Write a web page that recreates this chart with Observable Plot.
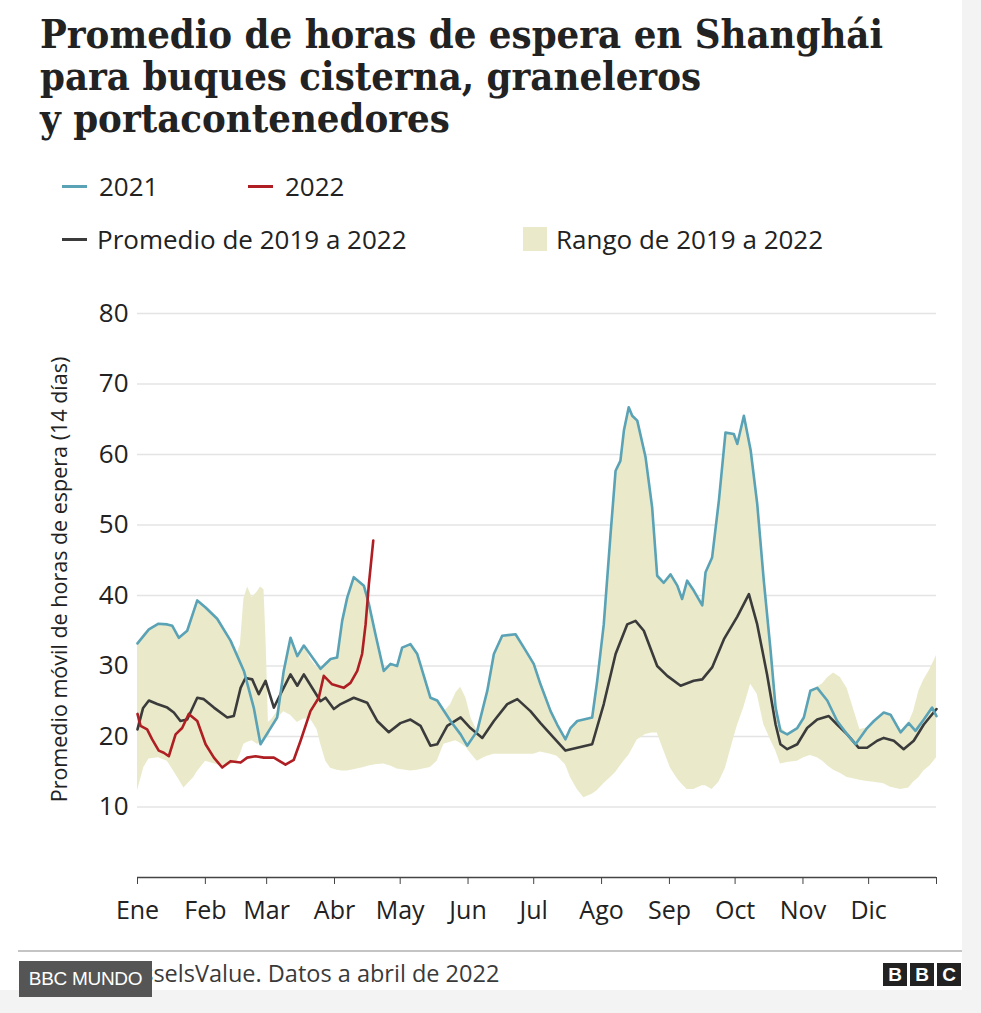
<!DOCTYPE html>
<html>
<head>
<meta charset="utf-8">
<script src="https://cdn.jsdelivr.net/npm/d3@7"></script>
<script src="https://cdn.jsdelivr.net/npm/@observablehq/plot@0.6"></script>
<style>
html,body{margin:0;padding:0;}
body{width:981px;height:1013px;background:#f3f3f3;position:relative;overflow:hidden;font-family:"Open Sans",sans-serif;color:#222;}
#card{position:absolute;left:0;top:0;width:962px;height:990px;background:#fff;}
.tl{position:absolute;left:40px;font-family:"DejaVu Serif",serif;font-weight:bold;font-size:39px;line-height:42px;height:42px;color:#222;white-space:nowrap;transform-origin:0 0;width:max-content;}
.leg{position:absolute;display:flex;align-items:center;height:26px;font-size:26px;line-height:26px;white-space:nowrap;color:#222;}
.dash{display:inline-block;width:25px;height:3px;margin-right:12px;}
.sq{display:inline-block;width:24px;height:24px;margin-right:9px;}
#chart{position:absolute;left:0;top:270px;}
#rule{position:absolute;left:18px;top:950px;width:944px;height:2px;background:#c4c4c4;}
#source{position:absolute;left:27px;top:957px;font-size:23.5px;line-height:32px;color:#3a3a3a;white-space:nowrap;}
#badge{position:absolute;left:19px;top:961px;width:133px;height:36px;background:#555;color:#fff;font-family:"Liberation Sans Narrow","Liberation Sans",sans-serif;font-size:19px;line-height:36px;text-align:center;letter-spacing:-0.3px;}
#bbc{position:absolute;left:883px;top:963px;display:flex;gap:3px;}
#bbc span{display:block;width:24px;height:23px;background:#222;color:#fff;font-family:"Liberation Sans",sans-serif;font-weight:bold;font-size:19px;line-height:23px;text-align:center;}
</style>
</head>
<body>
<div id="card"></div>
<div class="tl" style="top:13px">Promedio de horas de espera en Shanghái</div>
<div class="tl" style="top:55px">para buques cisterna, graneleros</div>
<div class="tl" style="top:97px">y portacontenedores</div>

<div class="leg" style="left:62px;top:173px"><span class="dash" style="background:#5aa2b5"></span>2021</div>
<div class="leg" style="left:248px;top:173px"><span class="dash" style="background:#ae1e22"></span>2022</div>
<div class="leg" style="left:62px;top:226px"><span class="dash" style="background:#3b3b3b;margin-right:10px"></span>Promedio de 2019 a 2022</div>
<div class="leg" style="left:523px;top:226px"><span class="sq" style="background:#eaeacb"></span>Rango de 2019 a 2022</div>

<div id="chart"></div>

<div id="rule"></div>
<div id="source">Fuente: VesselsValue. Datos a abril de 2022</div>
<div id="badge">BBC MUNDO</div>
<div id="bbc"><span>B</span><span>B</span><span>C</span></div>

<script>
// ---- Data (day of year, hours) ----
const monthLabels = ["Ene","Feb","Mar","Abr","May","Jun","Jul","Ago","Sep","Oct","Nov","Dic"];
const monthStartDays = [0,31,59,90,120,151,181,212,243,273,304,334];
const yearEndDay = 365;
const yTicks = [10,20,30,40,50,60,70,80];
const yLabel = "Promedio móvil de horas de espera (14 días)";

const days2021 = [0,5.2,9.6,13.6,15.9,18.9,22.7,27.3,31.1,36.4,42.5,48.6,53.1,56.2,60,63.8,66.8,69.9,73,76,83.6,88.2,91.2,93.5,95.8,98.8,103.4,105.7,108.7,112.5,115.6,118.6,120.9,124.7,127.8,133.8,136.9,143,147.6,150.6,155.2,159.8,162.8,166.6,172.7,176.5,181,184.1,188.7,191.7,195.5,197.8,200.9,207.7,210,213,216.1,218.4,220.6,222.2,224.4,226,228.3,232.1,235.1,237.4,240.4,243.5,246.6,248.8,251.1,254.1,258,259.5,262.5,265.6,268.6,272.4,274,277,280.1,283.1,286.1,289.2,291.5,293.7,296.8,301.4,304.4,307.4,310.5,315.1,319.6,324.2,328,333.3,336.4,340.9,344,348.6,352.3,355.4,359.2,363,365];
const hours2021 = [33.2,35.2,36.0,35.9,35.7,34.0,35.0,39.3,38.3,36.7,33.6,29.3,24.1,18.9,20.8,22.7,29.3,34.0,31.4,32.9,29.6,31.0,31.2,36.4,39.7,42.6,41.4,38.8,34.5,29.3,30.3,30.0,32.6,33.1,31.7,25.5,25.1,22.2,20.3,18.7,20.8,26.5,31.7,34.3,34.5,32.6,30.3,27.4,23.6,21.7,19.6,21.2,22.2,22.7,27.9,35.9,48.7,57.7,59.1,63.4,66.7,65.5,64.8,59.6,52.5,42.8,41.8,43.0,41.4,39.5,42.1,40.7,38.6,43.3,45.4,53.5,63.1,62.9,61.5,65.5,60.6,53.0,42.1,32.2,24.1,20.8,20.3,21.2,22.7,26.5,26.9,25.1,22.2,20.3,18.9,21.2,22.2,23.4,23.1,20.6,21.9,20.8,22.4,24.1,22.9];

const days2022 = [0,1.4,4.4,6.7,9.7,12,14.3,17.4,20.4,23.4,27.3,31.1,34.9,38.7,42.5,47.1,50.1,53.9,57.7,62.3,67.6,71.4,74.5,79,82.8,85.1,88.9,94.2,97.3,100.4,102.6,104.2,105.7,107.7];
const hours2022 = [23.2,21.5,21.0,19.6,18.0,17.7,17.2,20.3,21.2,23.2,22.2,18.9,17.0,15.6,16.5,16.3,17.0,17.2,17.0,17.0,16.0,16.7,19.4,23.6,25.5,28.6,27.4,26.9,27.6,29.3,31.7,35.9,41.6,47.8];

const daysAvg = [0,2.5,5.2,9,13.6,16.6,19.6,22.7,27.3,30.3,34.9,41,44,47.1,49.3,52.4,55.4,58.5,62.3,65.3,69.9,73,76,83.6,85.9,89.7,92.8,98.8,104.9,109.5,114.8,120.1,124.7,129.3,133.8,136.9,141.5,147.6,152.1,157.5,162.8,168.9,173.5,179.5,184.1,190.2,195.5,200.9,207.7,213,218.4,223.7,227.5,231.3,237.4,242,248.1,254.1,258,262.5,267.9,274,279.3,283.1,287.6,291.5,293.7,296.8,301.4,305.9,310.5,315.8,319.6,324.2,329.5,333.3,337.9,340.9,345.5,350,354.6,359.2,365];
const hoursAvg = [21.0,24.0,25.1,24.6,24.1,23.4,22.2,22.4,25.5,25.3,24.1,22.7,22.9,26.9,28.3,28.1,26.0,27.9,24.1,26.0,28.8,27.2,28.8,25.0,25.5,23.9,24.6,25.5,24.8,22.2,20.6,21.9,22.4,21.5,18.7,18.9,21.5,22.7,21.2,19.8,22.2,24.6,25.3,23.6,21.9,19.8,18.0,18.4,18.9,24.6,31.7,35.9,36.4,35.0,30.0,28.6,27.2,27.9,28.1,29.8,33.8,37.0,40.2,35.9,28.8,21.7,18.9,18.2,18.9,21.2,22.4,22.9,21.7,20.3,18.4,18.4,19.4,19.8,19.4,18.2,19.4,21.7,23.9];

const bandDays = [0,2.9,5.2,9.6,13.6,15.9,18.9,21.2,22.7,25.7,27.3,31.1,36.4,39.4,42.5,45.2,47,48.6,50.3,52.4,54.7,56.2,57.8,58.8,59.8,61.5,63.8,66.8,69.9,73,76,79,82,83.6,86,88.2,91.2,93.5,95.8,98.8,103.4,105.7,108.7,112.5,115.6,118.6,120.9,124.7,127.8,133.8,136.9,140,143,145.5,147.6,150,152.5,155.2,158.2,159.8,162.8,166.6,172.7,176.5,181,184.1,188.7,191.7,195.5,197.8,200.9,203.9,207.7,210,213,216.1,218.4,220.6,222.2,224.4,226,228.3,232.1,235.1,237.4,240.4,243.5,246.6,248.8,251.1,254.1,258,259.5,262.5,265.6,268.6,272.4,274,277,280.1,283.1,286.1,289.2,291.5,293.7,296.8,301.4,304.4,307.4,310.5,313,315.1,318,321,324.2,327,330,333.3,336.4,340.9,344,348.6,352.3,354.5,357,359.2,362,365];
const bandLow = [12.3,15.6,16.8,17.0,16.5,15.4,13.9,12.7,13.2,14.2,15.0,16.5,16.0,15.6,16.0,16.3,17.5,18.9,19.2,19.4,18.9,19.0,19.8,19.8,19.8,21.5,22.5,23.5,23.0,22.0,22.5,22.5,21.0,19.0,16.5,15.5,15.2,15.1,15.1,15.3,15.6,15.8,16.0,16.1,15.8,15.4,15.3,15.1,15.2,15.6,16.5,18.9,19.2,19.4,19.0,18.5,17.5,16.5,17.0,17.2,17.5,17.5,17.5,17.5,17.5,17.8,17.5,17.2,16.0,14.2,12.5,11.3,11.8,12.3,13.3,14.2,14.9,15.8,16.5,17.3,18.2,19.5,20.3,20.5,20.5,18.0,15.5,14.0,13.2,12.5,12.5,13.0,13.0,12.5,13.5,15.5,19.8,21.5,24.1,27.4,26.0,21.7,19.5,18.0,16.1,16.3,16.5,17.0,17.3,17.0,16.5,15.9,15.2,14.8,14.2,14.0,13.8,13.6,13.5,13.3,12.8,12.5,12.7,13.5,14.2,15.1,15.8,17.0];
const bandHigh = [33.2,34.5,35.2,36.0,35.9,35.7,34.0,34.5,35.0,37.5,39.3,38.3,36.7,35.2,33.6,31.5,33.0,39.5,41.2,39.7,40.5,41.2,40.8,33.0,22.0,22.5,23.5,29.3,34.0,31.4,32.9,31.0,29.8,29.6,30.5,31.0,31.2,36.4,39.7,42.6,41.4,38.8,34.5,29.3,30.3,30.0,32.6,33.1,31.7,25.5,25.1,23.5,24.5,26.2,27.0,25.5,22.5,20.8,24.5,26.5,31.7,34.3,34.5,32.6,30.3,27.4,23.6,21.7,19.6,21.2,22.2,22.4,22.7,27.9,35.9,48.7,57.7,59.1,63.4,66.7,65.5,64.8,59.6,52.5,42.8,41.8,43.0,41.4,39.5,42.1,40.7,38.6,43.3,45.4,53.5,63.1,62.9,61.5,65.5,60.6,53.0,42.1,32.2,24.1,21.5,20.3,21.2,22.7,26.5,27.0,27.5,28.3,29.0,28.4,26.8,24.0,21.0,21.2,22.2,23.4,23.1,20.8,21.9,23.5,26.5,28.0,29.5,31.5];

// ---- Tables built from the arrays ----
const s2021 = days2021.map((d, i) => ({day: d, hours: hours2021[i]}));
const s2022 = days2022.map((d, i) => ({day: d, hours: hours2022[i]}));
const sAvg = daysAvg.map((d, i) => ({day: d, hours: hoursAvg[i]}));
const band = bandDays.map((d, i) => ({day: d, low: bandLow[i], high: bandHigh[i]}));
const xTicks = [...monthStartDays, yearEndDay];
const labelByDay = new Map(monthStartDays.map((d, i) => [d, monthLabels[i]]));

const chart = Plot.plot({
  width: 981,
  height: 668,
  marginLeft: 137,
  marginRight: 45,
  marginTop: 43,
  marginBottom: 61,
  style: {background: "transparent", fontFamily: "'Open Sans', sans-serif", color: "#222", overflow: "visible"},
  x: {domain: [0, yearEndDay]},
  y: {domain: [0, 80]},
  marks: [
    Plot.gridY(yTicks, {stroke: "#e4e4e4", strokeOpacity: 1, strokeWidth: 1.5}),
    Plot.areaY(band, {x: "day", y1: "low", y2: "high", fill: "#eaeacb", fillOpacity: 1}),
    Plot.line(sAvg, {x: "day", y: "hours", stroke: "#3b3b3b", strokeWidth: 2.6}),
    Plot.line(s2021, {x: "day", y: "hours", stroke: "#5aa2b5", strokeWidth: 2.6}),
    Plot.line(s2022, {x: "day", y: "hours", stroke: "#ae1e22", strokeWidth: 2.6}),
    Plot.axisY(yTicks, {tickSize: 0, tickPadding: 9, fontSize: 26, label: null, tickFormat: d => String(d)}),
    Plot.axisX(xTicks, {tickSize: 7, tickPadding: 17, fontSize: 25, label: null, stroke: "#444", tickFormat: d => labelByDay.get(d) ?? ""}),
    Plot.ruleY([0], {stroke: "#444", strokeWidth: 1.5}),
    Plot.text([yLabel], {frameAnchor: "left", textAnchor: "middle", rotate: -90, dx: -77, dy: -16, fontSize: 21.5, fill: "#222", text: d => d})
  ]
});
document.getElementById("chart").appendChild(chart);

// fit the title lines to the reference width
const lines = document.querySelectorAll(".tl");
const w0 = lines[0].getBoundingClientRect().width;
const k = 843 / w0;
lines.forEach(s => { s.style.transform = `scaleX(${k})`; });
</script>
</body>
</html>
